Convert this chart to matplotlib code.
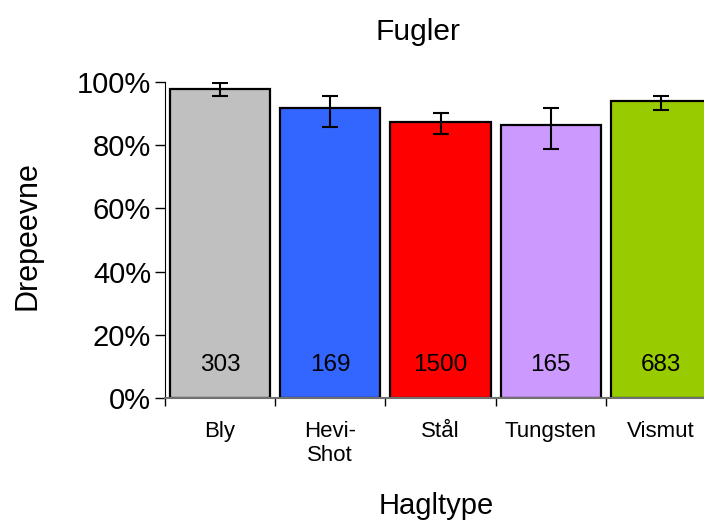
import numpy as np
from matplotlib import pyplot as plt
from matplotlib.ticker import PercentFormatter

plt.rcParams['font.family'] = ['Liberation Sans', 'DejaVu Sans']

# data
hagltype = ["Bly", "Hevi-\nShot", "Stål", "Tungsten", "Vismut"]
drepeevne = [0.977, 0.916, 0.873, 0.863, 0.940]
err_low = [0.023, 0.060, 0.039, 0.076, 0.030]
err_high = [0.018, 0.040, 0.029, 0.054, 0.016]
antall = [303, 169, 1500, 165, 683]
farger = ["#C0C0C0", "#3366FF", "#FF0000", "#CC99FF", "#99CC00"]

fig = plt.figure(figsize=(7.04, 5.21), dpi=100)
ax = fig.add_axes([165 / 704, 122.7 / 521, 539 / 704, 316.6 / 521])

x = np.arange(len(hagltype))
ax.bar(x, drepeevne, width=0.91, color=farger,
       edgecolor="black", linewidth=1.6, zorder=2)
ax.errorbar(x, drepeevne, yerr=[err_low, err_high], fmt="none", ecolor="black",
            elinewidth=1.5, capsize=6, capthick=1.5, zorder=3)

for xi, n in zip(x, antall):
    ax.text(xi, 0.105, str(n), ha="center", va="center", fontsize=17.5)

# the plot is cut on the right, as in the reference
ax.set_xlim(-0.5, 539 / 110.2 - 0.5)
ax.set_ylim(0, 1)
ax.yaxis.set_major_formatter(PercentFormatter(1.0, decimals=0))
ax.set_yticks(np.arange(0, 1.01, 0.2))
ax.tick_params(axis="y", labelsize=21, length=7, width=1, pad=3)

ax.set_xticks(x)
ax.set_xticklabels(hagltype, fontsize=16, linespacing=1.2, va="top")
ax.set_xticks(x - 0.5, minor=True)
ax.tick_params(axis="x", which="major", length=0, pad=16)
ax.tick_params(axis="x", which="minor", length=6, width=1)

for s in ["top", "right"]:
    ax.spines[s].set_visible(False)
ax.spines["bottom"].set_color("#707070")
ax.spines["bottom"].set_linewidth(1.5)

fig.text(417.5 / 704, 1 - 32 / 521, "Fugler", ha="center", va="center", fontsize=21.5)
fig.text(436 / 704, 1 - 506 / 521, "Hagltype", ha="center", va="center", fontsize=21)
fig.text(28 / 704, 1 - 236 / 521, "Drepeevne", ha="center", va="center",
         rotation=90, fontsize=22)

plt.savefig("out.png", dpi=100)
